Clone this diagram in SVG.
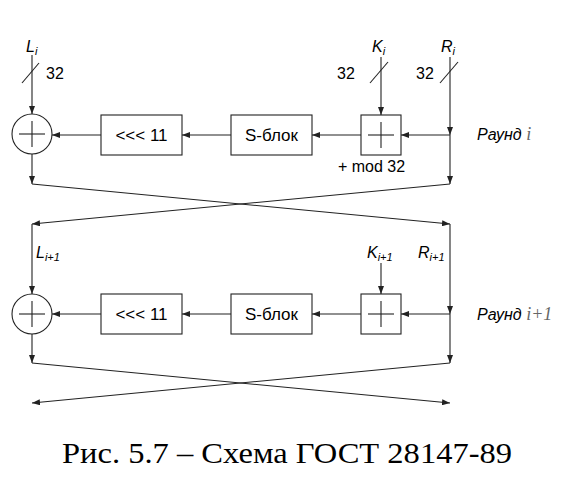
<svg xmlns="http://www.w3.org/2000/svg" width="579" height="485" viewBox="0 0 579 485">
<style>
.ln{stroke:#222;stroke-width:1.1;fill:none}
.arr{stroke:#222;stroke-width:1.1;fill:none;marker-end:url(#ah)}
.box{stroke:#222;stroke-width:1.1;fill:#fff}
.t{font-family:"Liberation Sans",Arial,sans-serif;font-size:16px;fill:#000}
.bt{font-family:"Liberation Sans",Arial,sans-serif;font-size:17px;fill:#000;text-anchor:middle}
.it{font-family:"Liberation Sans",Arial,sans-serif;font-style:italic;font-size:16px;fill:#000}
.sub{font-size:11px}
.cal{font-family:"Liberation Serif",serif;font-style:italic;font-size:18px;fill:#666}
.cap{font-family:"Liberation Serif","DejaVu Serif",serif;font-size:29px;fill:#000}
</style>
<defs>
<marker id="ah" viewBox="0 0 8 6" refX="8" refY="3" markerWidth="8" markerHeight="6" markerUnits="userSpaceOnUse" orient="auto">
<path d="M0,0 L8,3 L0,6 Z" fill="#222"/>
</marker>
</defs>
<g id="connectors">
<line class="arr" x1="32" y1="55" x2="32" y2="114"/>
<line class="ln" x1="22" y1="83" x2="39" y2="63"/>
<line class="arr" x1="32" y1="154" x2="32" y2="184"/>
<line class="arr" x1="101" y1="135" x2="52" y2="135"/>
<line class="arr" x1="231" y1="135" x2="182" y2="135"/>
<line class="arr" x1="361" y1="135" x2="312" y2="135"/>
<line class="arr" x1="381" y1="57" x2="381" y2="115"/>
<line class="ln" x1="370" y1="83" x2="388" y2="62"/>
<line class="arr" x1="450" y1="57" x2="450" y2="135"/>
<line class="arr" x1="450" y1="135" x2="450" y2="184"/>
<line class="arr" x1="450" y1="135" x2="401" y2="135"/>
<line class="ln" x1="440" y1="83" x2="458" y2="62"/>
<line class="arr" x1="32" y1="184" x2="450" y2="224"/>
<line class="arr" x1="450" y1="184" x2="32" y2="224"/>
<line class="arr" x1="32" y1="224" x2="32" y2="294"/>
<line class="arr" x1="32" y1="334" x2="32" y2="363"/>
<line class="arr" x1="101" y1="314" x2="52" y2="314"/>
<line class="arr" x1="231" y1="314" x2="182" y2="314"/>
<line class="arr" x1="361" y1="314" x2="312" y2="314"/>
<line class="arr" x1="381" y1="263" x2="381" y2="294"/>
<line class="arr" x1="450" y1="224" x2="450" y2="314"/>
<line class="arr" x1="450" y1="314" x2="450" y2="363"/>
<line class="arr" x1="450" y1="314" x2="401" y2="314"/>
<line class="arr" x1="32" y1="363" x2="450" y2="403"/>
<line class="arr" x1="450" y1="363" x2="32" y2="403"/>
</g>
<g id="xor1">
<circle class="box" cx="32" cy="134" r="20"/>
<line class="ln" x1="19" y1="134" x2="45" y2="134"/>
<line class="ln" x1="32" y1="121" x2="32" y2="147"/>
</g>
<g id="rot1">
<rect class="box" x="101" y="115" width="81" height="40"/>
<text class="bt" x="141.5" y="141">&lt;&lt;&lt; 11</text>
</g>
<g id="sbox1">
<rect class="box" x="231" y="115" width="81" height="40"/>
<text class="bt" x="271.5" y="141">S-блок</text>
</g>
<g id="add1">
<rect class="box" x="361" y="115" width="40" height="40"/>
<line class="ln" x1="368" y1="135" x2="394" y2="135"/>
<line class="ln" x1="381" y1="122" x2="381" y2="148"/>
</g>
<g id="xor2">
<circle class="box" cx="32" cy="314" r="20"/>
<line class="ln" x1="19" y1="314" x2="45" y2="314"/>
<line class="ln" x1="32" y1="301" x2="32" y2="327"/>
</g>
<g id="rot2">
<rect class="box" x="101" y="294" width="81" height="40"/>
<text class="bt" x="141.5" y="320">&lt;&lt;&lt; 11</text>
</g>
<g id="sbox2">
<rect class="box" x="231" y="294" width="81" height="40"/>
<text class="bt" x="271.5" y="320">S-блок</text>
</g>
<g id="add2">
<rect class="box" x="361" y="294" width="40" height="40"/>
<line class="ln" x1="368" y1="314" x2="394" y2="314"/>
<line class="ln" x1="381" y1="301" x2="381" y2="327"/>
</g>
<g id="labels">
<text class="it" x="26" y="52">L<tspan class="sub" dy="3">i</tspan></text>
<text class="t" x="46" y="79">32</text>
<text class="it" x="372" y="52">K<tspan class="sub" dy="3">i</tspan></text>
<text class="t" x="337" y="79">32</text>
<text class="it" x="441" y="52">R<tspan class="sub" dy="3">i</tspan></text>
<text class="t" x="416" y="79">32</text>
<text class="t" x="338" y="172">+ mod 32</text>
<text class="it" x="477" y="140">Раунд <tspan class="cal">i</tspan></text>
<text class="it" x="36" y="258">L<tspan class="sub" dy="3">i+1</tspan></text>
<text class="it" x="367" y="258">K<tspan class="sub" dy="3">i+1</tspan></text>
<text class="it" x="418" y="258">R<tspan class="sub" dy="3">i+1</tspan></text>
<text class="it" x="477" y="320">Раунд <tspan class="cal">i+1</tspan></text>
</g>
<text class="cap" x="62" y="463" textLength="450" lengthAdjust="spacingAndGlyphs">Рис. 5.7 – Схема ГОСТ 28147-89</text>
</svg>
